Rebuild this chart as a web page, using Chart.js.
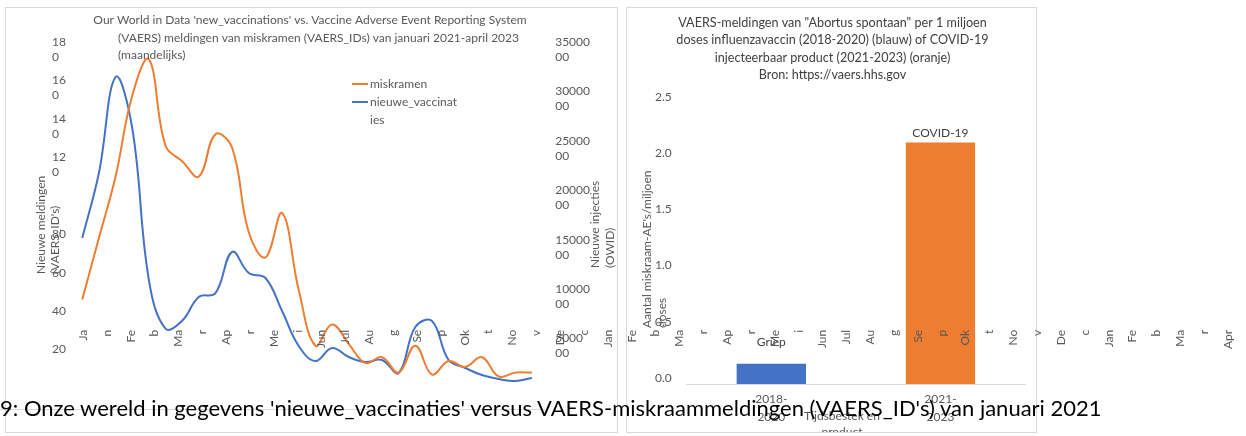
<!DOCTYPE html>
<html>
<head>
<meta charset="utf-8">
<script src="https://cdn.jsdelivr.net/npm/chart.js@4.4.1/dist/chart.umd.min.js"></script>
<style>
  body { margin: 0; width: 1246px; height: 436px; overflow: hidden; background: #fff; position: relative; font-family: Lato, sans-serif; }
  .rand { position: absolute; border: 1px solid #d9d9d9; box-sizing: border-box; }
  canvas { position: absolute; }
  #maandAs { pointer-events: none; }
  #lijn { position: absolute; left: 0; top: 409px; width: 545px; height: 1px; background: #d9d9d9; }
  #onderschrift { position: absolute; left: 0; top: 395px; font-size: 22px; line-height: 26px; color: #000; white-space: nowrap; }
</style>
</head>
<body>
<div class="rand" style="left:5px;top:7px;width:613px;height:426px"></div>
<div class="rand" style="left:626px;top:7px;width:411px;height:426px"></div>
<canvas id="lijnGrafiek" width="612" height="425" style="left:5px;top:7px"></canvas>
<canvas id="staafGrafiek" width="410" height="425" style="left:626px;top:7px"></canvas>
<canvas id="maandAs" width="1246" height="436" style="left:0;top:0"></canvas>
<div id="lijn"></div>
<div id="onderschrift">9: Onze wereld in gegevens 'nieuwe_vaccinaties' versus VAERS-miskraammeldingen (VAERS_ID's) van januari 2021</div>

<script>
// maanden jan 2021 - apr 2023
var maanden = ['jan 2021', 'feb 2021', 'mrt 2021', 'apr 2021', 'mei 2021', 'jun 2021', 'jul 2021', 'aug 2021',
    'sep 2021', 'okt 2021', 'nov 2021', 'dec 2021', 'jan 2022', 'feb 2022', 'mrt 2022', 'apr 2022', 'mei 2022',
    'jun 2022', 'jul 2022', 'aug 2022', 'sep 2022', 'okt 2022', 'nov 2022', 'dec 2022', 'jan 2023', 'feb 2023',
    'mrt 2023', 'apr 2023'];
var miskramen = [46, 78, 110, 152, 171, 126, 118, 110, 132, 125, 81, 68, 91, 51, 22, 33, 23, 13, 16, 8,
    22, 7, 14, 11, 16, 6, 8, 8];
var nieuweVaccinaties = [1517000, 2175000, 3146000, 2630000, 1093000, 600000, 680000, 920000, 960000, 1376000,
    1163000, 1113000, 779000, 425000, 273000, 405000, 314000, 263000, 283000, 152000, 617000, 678000,
    283000, 202000, 131000, 91000, 71000, 101000];

// afgebroken maandlabels die over beide grafieken lopen
var maandDelen = ['Ja', 'n', 'Fe', 'b', 'Ma', 'r', 'Ap', 'r', 'Me', 'i', 'Jun', 'Jul', 'Au', 'g', 'Se', 'p',
    'Ok', 't', 'No', 'v', 'De', 'c', 'Jan', 'Fe', 'b', 'Ma', 'r', 'Ap', 'r', 'Me', 'i', 'Jun', 'Jul', 'Au', 'g',
    'Se', 'p', 'Ok', 't', 'No', 'v', 'De', 'c', 'Jan', 'Fe', 'b', 'Ma', 'r', 'Apr'];

// staafgrafiek
var periodes = [['2018-', '2020'], ['2021-', '2023']];
var producten = ['Griep', 'COVID-19'];
var aePerMiljoen = [0.18, 2.15];

var ORANJE = '#ED7D31';
var BLAUW = '#4472C4';

Chart.defaults.font.family = 'Lato';
Chart.defaults.font.size = 12;
Chart.defaults.color = '#595959';

// losse teksten op vaste plekken (titels die over het plotvlak heen lopen)
function tekstPlugin(id, items) {
    return {
        id: id,
        afterDraw: function (chart) {
            var c = chart.ctx;
            items.forEach(function (it) {
                c.save();
                c.font = (it.grootte || 12) + 'px Lato';
                c.fillStyle = it.kleur || '#595959';
                c.textAlign = it.align || 'left';
                c.textBaseline = 'middle';
                c.translate(it.x, it.y);
                if (it.draai) c.rotate(-Math.PI / 2);
                c.fillText(it.tekst, 0, 0);
                c.restore();
            });
        }
    };
}

var legendaBinnen = {
    id: 'legendaBinnen',
    afterDraw: function (chart) {
        var c = chart.ctx, x = 347, y = 77;
        c.save();
        chart.data.datasets.forEach(function (ds) {
            c.strokeStyle = ds.borderColor;
            c.lineWidth = 2;
            c.beginPath(); c.moveTo(x, y); c.lineTo(x + 16, y); c.stroke();
            c.font = '12px Lato';
            c.fillStyle = '#595959';
            c.textBaseline = 'middle';
            ds.label.match(/.{1,15}/g).forEach(function (r) {
                c.fillText(r, x + 18, y);
                y += 18;
            });
        });
        c.restore();
    }
};

var geenRaster = { display: false, drawTicks: false };

var lijnChart = new Chart(document.getElementById('lijnGrafiek'), {
    type: 'line',
    data: {
        labels: maanden,
        datasets: [{
            label: 'miskramen',
            data: miskramen,
            borderColor: ORANJE,
            borderWidth: 2,
            pointRadius: 0,
            tension: 0.4,
            yAxisID: 'y'
        }, {
            label: 'nieuwe_vaccinaties',
            data: nieuweVaccinaties,
            borderColor: BLAUW,
            borderWidth: 2,
            pointRadius: 0,
            tension: 0.4,
            yAxisID: 'y2'
        }]
    },
    options: {
        responsive: false,
        animation: false,
        layout: { padding: { left: 47, right: 12, top: 35, bottom: 44 } },
        plugins: { legend: { display: false }, tooltip: { enabled: false } },
        scales: {
            x: { display: false, offset: true },
            y: {
                position: 'left',
                min: 0, max: 180,
                grid: geenRaster,
                border: { display: false },
                ticks: {
                    stepSize: 20,
                    crossAlign: 'far',
                    padding: 4,
                    labelOffset: 7.5,
                    font: { size: 12, lineHeight: 1.25 },
                    callback: function (v) {
                        if (v === 0 || v === 100) return '';
                        var s = String(v);
                        return s.length > 2 ? [s.slice(0, -1), s.slice(-1)] : [s, ''];
                    }
                }
            },
            y2: {
                position: 'right',
                min: 0, max: 3500000,
                grid: geenRaster,
                border: { display: false },
                ticks: {
                    stepSize: 500000,
                    padding: 15,
                    labelOffset: 7.5,
                    font: { size: 12, lineHeight: 1.25 },
                    callback: function (v) {
                        if (v === 0) return '';
                        var s = String(v);
                        return [s.slice(0, -2), s.slice(-2)];
                    }
                }
            }
        }
    },
    plugins: [legendaBinnen, tekstPlugin('lijnTeksten', [
        { tekst: "Our World in Data 'new_vaccinations' vs. Vaccine Adverse Event Reporting System", x: 305, y: 13, align: 'center' },
        { tekst: '(VAERS) meldingen van miskramen (VAERS_IDs) van januari 2021-april 2023', x: 113, y: 31 },
        { tekst: '(maandelijks)', x: 113, y: 48 },
        { tekst: 'Nieuwe meldingen', x: 36, y: 267, draai: true },
        { tekst: "(VAERS_ID's)", x: 50, y: 267, draai: true },
        { tekst: 'Nieuwe injecties', x: 590, y: 261, draai: true },
        { tekst: '(OWID)', x: 605, y: 261, draai: true }
    ])]
});

var staafLabels = {
    id: 'staafLabels',
    afterDatasetsDraw: function (chart) {
        var c = chart.ctx, afstand = [22, 9];
        c.save();
        c.font = '12px Lato';
        c.fillStyle = '#404040';
        c.textAlign = 'center';
        c.textBaseline = 'middle';
        chart.getDatasetMeta(0).data.forEach(function (bar, i) {
            c.fillText(producten[i], bar.x, bar.y - afstand[i]);
        });
        c.restore();
    }
};

var staafChart = new Chart(document.getElementById('staafGrafiek'), {
    type: 'bar',
    data: {
        labels: periodes,
        datasets: [{
            label: 'miskraam-AE\'s per miljoen doses',
            data: aePerMiljoen,
            backgroundColor: [BLAUW, ORANJE],
            categoryPercentage: 1,
            barPercentage: 0.41
        }]
    },
    options: {
        responsive: false,
        animation: false,
        layout: { padding: { left: 14, right: 11, top: 0, bottom: 0 } },
        plugins: {
            legend: { display: false },
            tooltip: { enabled: false },
            title: {
                display: true,
                text: ['VAERS-meldingen van "Abortus spontaan" per 1 miljoen',
                    'doses influenzavaccin (2018-2020) (blauw) of COVID-19',
                    'injecteerbaar product (2021-2023) (oranje)',
                    'Bron: https://vaers.hhs.gov'],
                color: '#404040',
                font: { size: 12.6, weight: 'normal', lineHeight: 1.39 },
                padding: { top: 7, bottom: 19 }
            }
        },
        scales: {
            x: {
                grid: geenRaster,
                border: { display: true, color: '#d9d9d9' },
                ticks: { padding: 6, font: { size: 12, lineHeight: 1.5 } }
            },
            y: {
                min: 0, max: 2.5,
                grid: geenRaster,
                border: { display: false },
                ticks: {
                    stepSize: 0.5,
                    padding: 15,
                    labelOffset: -6,
                    callback: function (v) { return v.toFixed(1); }
                }
            }
        }
    },
    plugins: [staafLabels, tekstPlugin('staafTeksten', [
        { tekst: "Aantal miskraam-AE's/miljoen", x: 21, y: 321, draai: true },
        { tekst: 'doses', x: 36, y: 321, draai: true },
        { tekst: 'Tijdsbestek en', x: 216, y: 409, align: 'center' },
        { tekst: 'product', x: 216, y: 425, align: 'center' }
    ])]
});

// de maandlabels van de lijngrafiek die over de hele breedte doorlopen
var maandChart = new Chart(document.getElementById('maandAs'), {
    type: 'line',
    data: { labels: maandDelen, datasets: [] },
    options: {
        responsive: false,
        animation: false,
        layout: { padding: { left: 83, right: 18, top: 0, bottom: 84 } },
        plugins: { legend: { display: false }, tooltip: { enabled: false } },
        scales: {
            x: {
                offset: false,
                grid: geenRaster,
                border: { display: false },
                ticks: { autoSkip: false, minRotation: 90, maxRotation: 90, padding: 3, font: { size: 12 } }
            },
            y: { display: false }
        }
    }
});
</script>
</body>
</html>
